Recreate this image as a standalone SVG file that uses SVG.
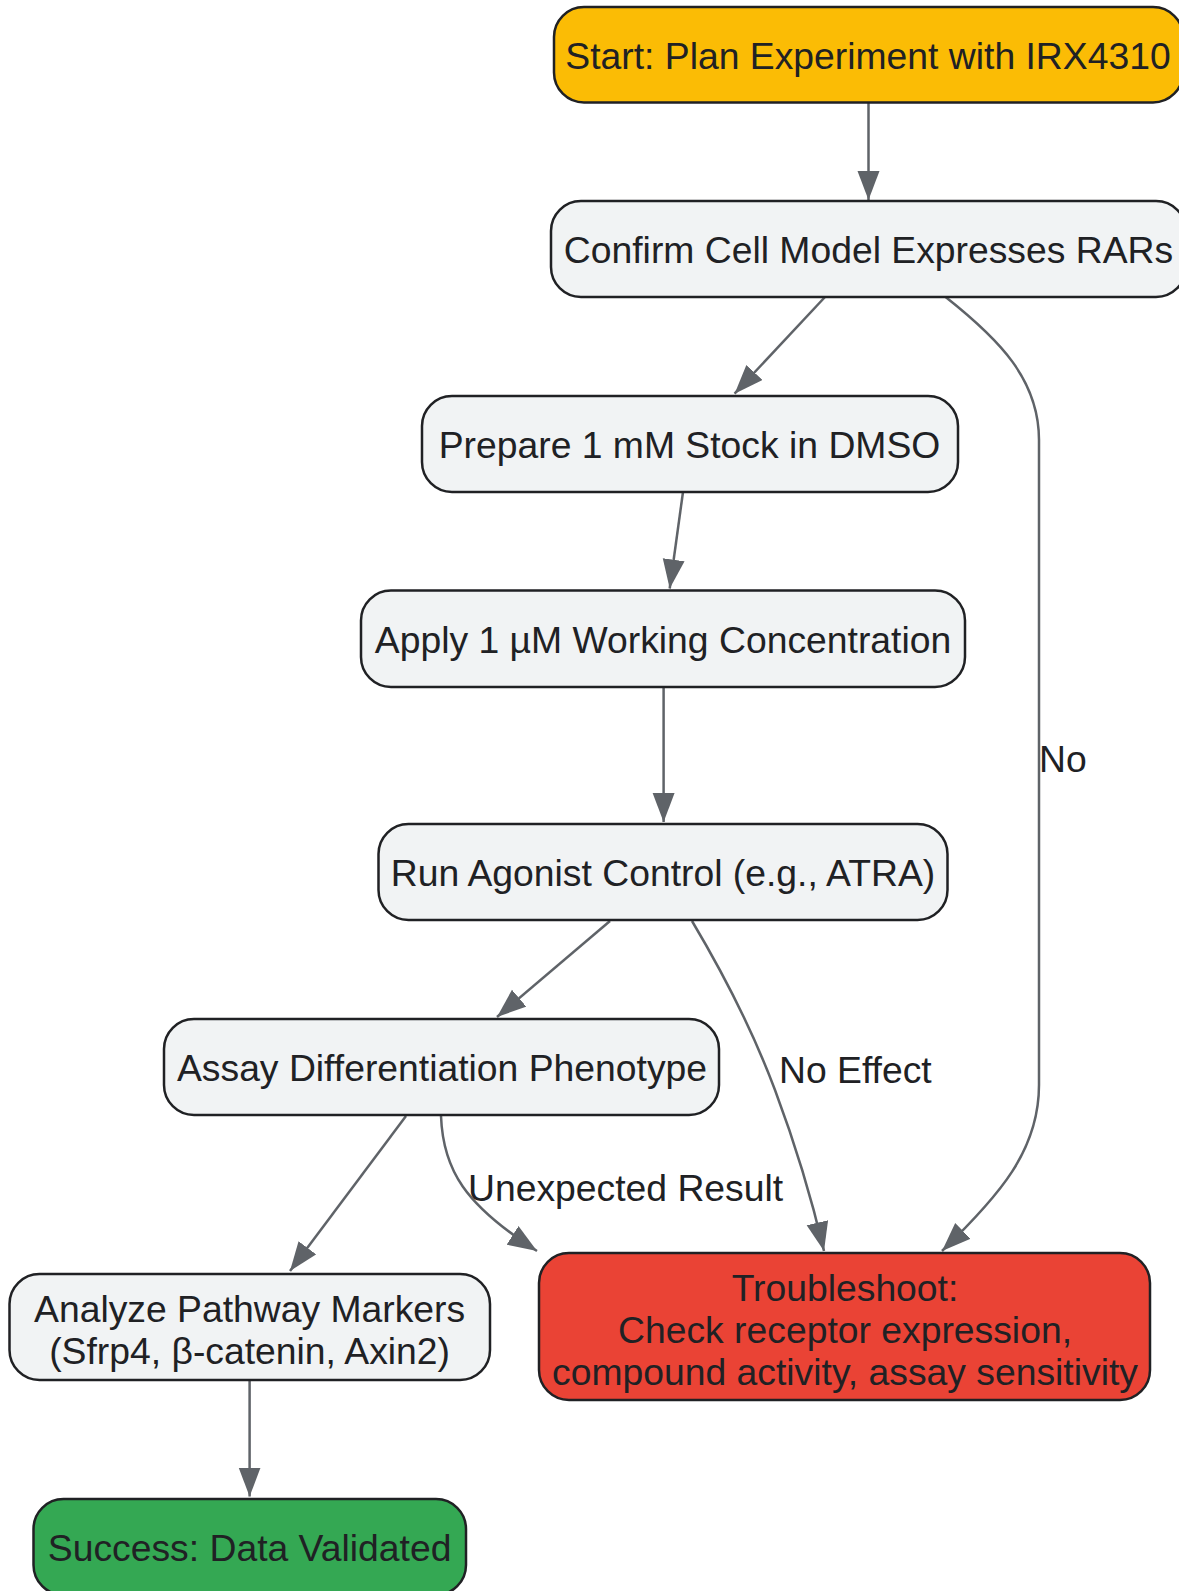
<svg xmlns="http://www.w3.org/2000/svg" width="1179" height="1591" viewBox="0 0 1179 1591">
<defs>
<marker id="arr" markerUnits="userSpaceOnUse" markerWidth="32" markerHeight="24" refX="29" refY="11" orient="auto">
<path d="M0,0 L29,11 L0,22 z" fill="#5F6368"/>
</marker>
<style>
.node rect{stroke:#202124;stroke-width:2.5}
.def rect{fill:#F1F3F4}
text{font-family:"Liberation Sans",Arial,sans-serif;font-size:37.3px;fill:#202124}
.node text{text-anchor:middle}
.edges path{fill:none;stroke:#5F6368;stroke-width:2.5;marker-end:url(#arr)}
</style>
</defs>
<rect width="1179" height="1591" fill="#ffffff"/>
<g class="edges" id="connectors">
<path d="M868.5,103 L868.5,200"/>
<path d="M825,297 L734.6,393.7"/>
<path d="M945.6,297 C1000,340 1039,380 1039,440 L1039,1085 C1039,1150 1000,1195 942,1251"/>
<path d="M683,492 L669.7,588.5"/>
<path d="M663.6,687 L663.6,822"/>
<path d="M610,921 L497,1017"/>
<path d="M692,921 Q745,1010 775,1090 T824,1251"/>
<path d="M406,1116 L290,1271"/>
<path d="M441,1116 C443,1170 465,1205 537,1251"/>
<path d="M249.6,1380 L249.6,1496.5"/>
</g>
<g id="edge-labels">
<text x="1039" y="772">No</text>
<text x="779" y="1083">No Effect</text>
<text x="468" y="1201">Unexpected Result</text>
</g>
<g class="node" id="start">
<rect x="554" y="7" width="629" height="95.5" rx="30" fill="#FBBC05"/>
<text x="868" y="69">Start: Plan Experiment with IRX4310</text>
</g>
<g class="node def" id="confirm">
<rect x="551" y="201" width="635" height="96" rx="30"/>
<text x="868.5" y="263">Confirm Cell Model Expresses RARs</text>
</g>
<g class="node def" id="prepare">
<rect x="422" y="396" width="536" height="96" rx="30"/>
<text x="689.5" y="458">Prepare 1 mM Stock in DMSO</text>
</g>
<g class="node def" id="apply">
<rect x="361" y="590.5" width="604" height="96.5" rx="30"/>
<text x="663" y="653">Apply 1 µM Working Concentration</text>
</g>
<g class="node def" id="run">
<rect x="378.5" y="824" width="569" height="96" rx="30"/>
<text x="663" y="886">Run Agonist Control (e.g., ATRA)</text>
</g>
<g class="node def" id="assay">
<rect x="164" y="1019" width="555" height="96" rx="30"/>
<text x="442" y="1081">Assay Differentiation Phenotype</text>
</g>
<g class="node def" id="analyze">
<rect x="9.5" y="1274" width="480.5" height="106" rx="30"/>
<text x="249.6" y="1322">Analyze Pathway Markers</text>
<text x="249.6" y="1364">(Sfrp4, β-catenin, Axin2)</text>
</g>
<g class="node" id="success">
<rect x="33.5" y="1499" width="432.5" height="96" rx="30" fill="#34A853"/>
<text x="249.6" y="1561">Success: Data Validated</text>
</g>
<g class="node" id="troubleshoot">
<rect x="539" y="1253" width="611" height="147" rx="30" fill="#EA4335"/>
<text x="845" y="1301">Troubleshoot:</text>
<text x="845" y="1343">Check receptor expression,</text>
<text x="845" y="1385">compound activity, assay sensitivity</text>
</g>
</svg>
